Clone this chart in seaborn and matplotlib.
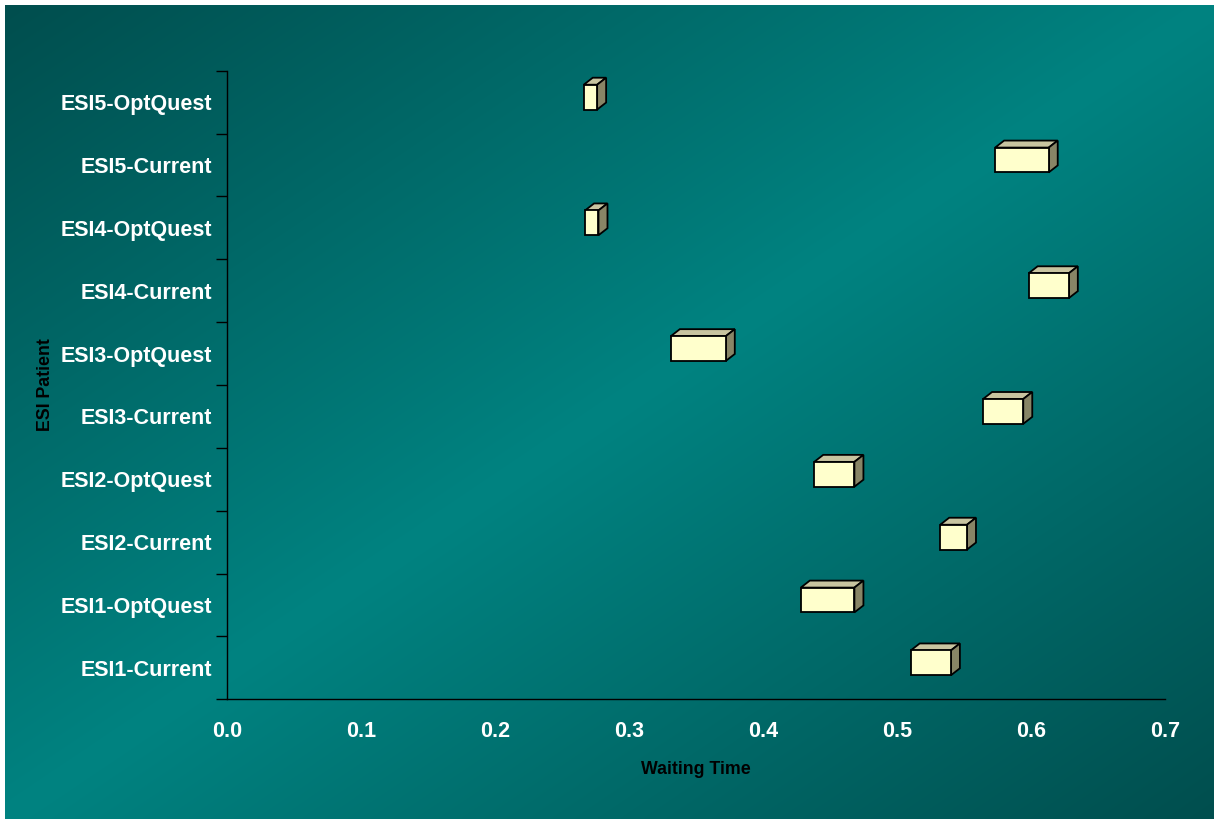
import numpy as np
import pandas as pd
import matplotlib
matplotlib.use("Agg")
import matplotlib.pyplot as plt
import matplotlib.transforms as mtransforms
from matplotlib.patches import Polygon
import seaborn as sns

# ---------------- data ----------------
categories = ["ESI5-OptQuest", "ESI5-Current", "ESI4-OptQuest", "ESI4-Current",
              "ESI3-OptQuest", "ESI3-Current", "ESI2-OptQuest", "ESI2-Current",
              "ESI1-OptQuest", "ESI1-Current"]
start_values = [0.266, 0.573, 0.267, 0.598, 0.331, 0.564, 0.438, 0.532, 0.428, 0.510]
end_values = [0.276, 0.613, 0.277, 0.628, 0.372, 0.594, 0.468, 0.552, 0.468, 0.540]
x_ticks = [0.0, 0.1, 0.2, 0.3, 0.4, 0.5, 0.6, 0.7]
x_tick_labels = ["0.0", "0.1", "0.2", "0.3", "0.4", "0.5", "0.6", "0.7"]
x_label = "Waiting Time"
y_label = "ESI Patient"

df = pd.DataFrame({"category": categories, "start": start_values, "end": end_values})
df["span"] = df["end"] - df["start"]

# ---------------- figure ----------------
W, H, DPI = 1214, 819, 100
sns.set_theme(style="white")
plt.rcParams["font.family"] = ["Liberation Sans", "DejaVu Sans"]
fig = plt.figure(figsize=(W / DPI, H / DPI), dpi=DPI, facecolor="white")

# background diagonal gradient
bg = fig.add_axes([5 / W, 0, 1 - 5 / W, 1 - 5 / H])
nx, ny = 400, 300
u = np.linspace(0, 1, nx)[None, :]
v = np.linspace(0, 1, ny)[:, None]
t = (u + v) / 2
s = 1 - np.abs(2 * t - 1)
dark = np.array([0, 78, 78]) / 255
light = np.array([0, 131, 129]) / 255
img = dark + (light - dark) * s[..., None]
bg.imshow(img, aspect="auto", extent=[0, 1, 1, 0], interpolation="bilinear")
bg.set_xlim(0, 1)
bg.set_ylim(1, 0)
bg.axis("off")
bg.set_zorder(0)

# main axes
ax_l, ax_r, ax_t, ax_b = 227.3, 1165.3, 70.7, 699.3
ax = fig.add_axes([ax_l / W, 1 - ax_b / H, (ax_r - ax_l) / W, (ax_b - ax_t) / H])
ax.set_zorder(1)
ax.patch.set_alpha(0)

sns.barplot(data=df, x="span", y="category", order=categories, orient="h",
            left=df["start"].to_numpy(), width=0.395, color="#ffffcc",
            saturation=1, edgecolor="black", linewidth=1.3, errorbar=None,
            ax=ax, zorder=3)

ax.set_xlim(0, 0.7)
ax.set_ylim(9.5, -0.5)

# shift bars slightly up (3-D look) and add top / side faces
offset = mtransforms.ScaledTranslation(0, 5 / DPI, fig.dpi_scale_trans)
dx, dy = 9.0, 7.0
front_patches = list(ax.patches)
for p in front_patches:
    p.set_transform(ax.transData + offset)
    p.set_joinstyle("miter")
    x0, y0, w, h = p.get_x(), p.get_y(), p.get_width(), p.get_height()
    tr = ax.transData + offset
    (X0, Ytop) = tr.transform((x0, y0))
    (X1, Ybot) = tr.transform((x0 + w, y0 + h))
    top = Polygon([(X0, Ytop), (X1, Ytop), (X1 + dx, Ytop + dy), (X0 + dx, Ytop + dy)],
                  closed=True, facecolor="#c8c4a0", edgecolor="black", linewidth=1.3,
                  transform=mtransforms.IdentityTransform(), zorder=2.9, joinstyle="miter")
    side = Polygon([(X1, Ytop), (X1 + dx, Ytop + dy), (X1 + dx, Ybot + dy), (X1, Ybot)],
                   closed=True, facecolor="#888566", edgecolor="black", linewidth=1.3,
                   transform=mtransforms.IdentityTransform(), zorder=2.9, joinstyle="miter")
    ax.add_artist(top)
    ax.add_artist(side)

# spines
for sp in ["top", "right"]:
    ax.spines[sp].set_visible(False)
for sp in ["left", "bottom"]:
    ax.spines[sp].set_color("black")
    ax.spines[sp].set_linewidth(1.0)

# ticks
ax.set_xticks(x_ticks)
ax.set_xticklabels(x_tick_labels)
ax.tick_params(axis="x", which="major", direction="out", length=7.9, width=1.0,
               color="black", labelcolor="white", labelsize=15.5, pad=7.5)
ax.tick_params(axis="y", which="major", length=0, labelcolor="white",
               labelsize=15.5, pad=10.8)
ax.set_yticks(np.arange(-0.5, 10, 1), minor=True)
ax.tick_params(axis="y", which="minor", left=True, direction="out", length=7.9,
               width=1.0, color="black")
for lab in ax.get_xticklabels() + ax.get_yticklabels():
    lab.set_fontweight("bold")

# labels
ax.set_xlabel(x_label, fontsize=12.8, fontweight="bold", color="black")
ax.set_ylabel(y_label, fontsize=12.8, fontweight="bold", color="black")
ax_h = ax_b - ax_t
ax_w = ax_r - ax_l
ax.xaxis.set_label_coords(0.5, -(769 - ax_b) / ax_h)
ax.xaxis.label.set_va("center")
ax.yaxis.set_label_coords(-(ax_l - 46) / ax_w, 0.5)
ax.yaxis.label.set_va("center")
ax.yaxis.label.set_ha("center")
ax.grid(False)

fig.savefig("out.png", dpi=DPI, facecolor="white")
